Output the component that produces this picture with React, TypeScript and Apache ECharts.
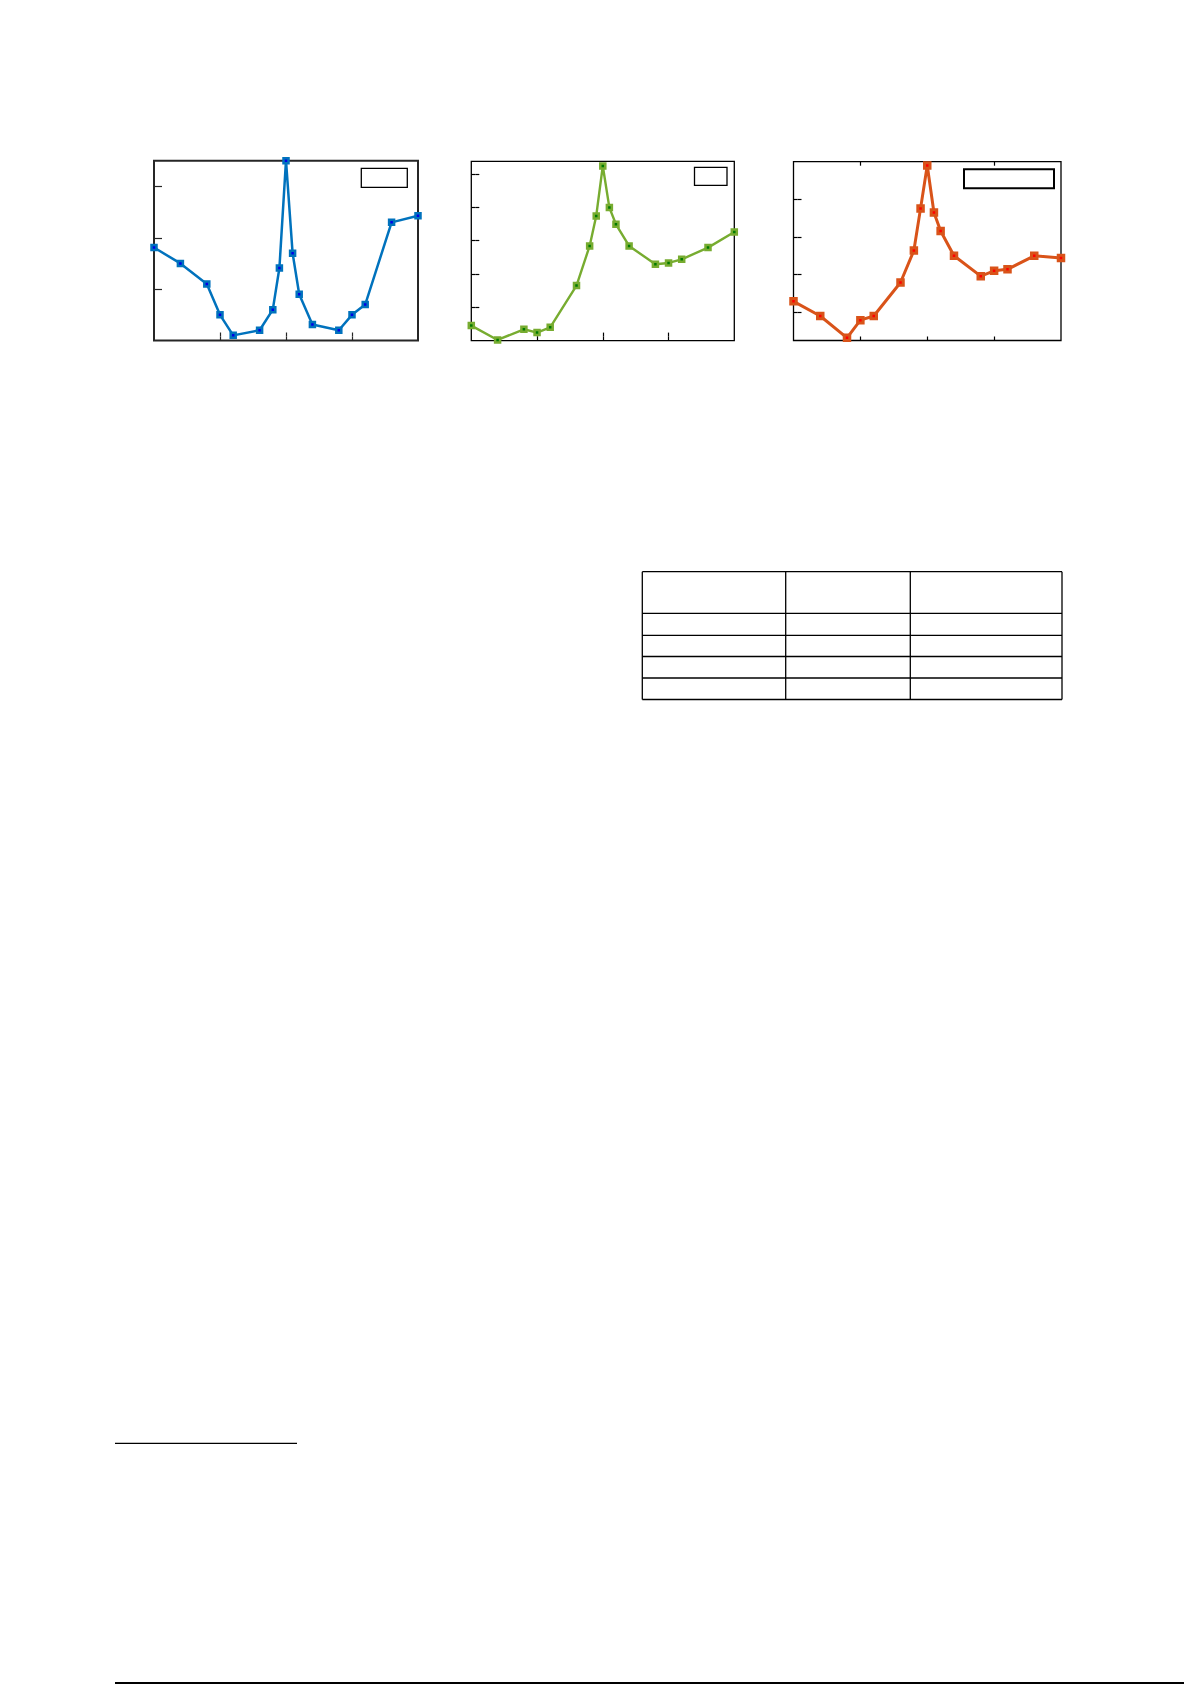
import React, { useEffect, useRef } from 'react';
import * as echarts from 'echarts';

// shared x positions of the measurements
const xValues = [0, 2, 4, 5, 6, 8, 9, 9.5, 10, 10.5, 11, 12, 14, 15, 16, 18, 20];
const xTicks = [5, 10, 15];

// left panel (blue)
const blueValues = [1.81, 1.5, 1.1, 0.5, 0.1, 0.2, 0.6, 1.41, 3.5, 1.7, 0.9, 0.31, 0.2, 0.5, 0.7, 2.3, 2.43];
const blueTicks = [1, 2, 3];

// middle panel (green)
const greenValues = [0.45, 0.02, 0.34, 0.24, 0.4, 1.65, 2.84, 3.74, 5.24, 3.99, 3.49, 2.84, 2.29, 2.33, 2.44, 2.79, 3.26];
const greenTicks = [1, 2, 3, 4, 5];

// right panel (orange)
const orangeValues = [1.29, 0.9, 0.32, 0.79, 0.9, 1.79, 2.64, 3.76, 4.9, 3.65, 3.16, 2.5, 1.96, 2.1, 2.14, 2.5, 2.44];
const orangeTicks = [1, 2, 3, 4];

const panels = [
  { values: blueValues, ticks: blueTicks, min: 0, max: 3.5, line: '#0072BD', fill: '#0000E6', width: 2.5,
    grid: { left: 154, top: 160.7, width: 264, height: 179.8 }, frame: '#262626', frameWidth: 2 },
  { values: greenValues, ticks: greenTicks, min: 0, max: 5.38, line: '#77AC30', fill: '#007A00', width: 2.4,
    grid: { left: 471.3, top: 161.3, width: 263, height: 179.3 }, frame: '#000', frameWidth: 1.3 },
  { values: orangeValues, ticks: orangeTicks, min: 0.25, max: 5, line: '#D95319', fill: '#FF0000', width: 3,
    grid: { left: 793.5, top: 161.7, width: 267.5, height: 178.8 }, frame: '#000', frameWidth: 1.3 },
];

// empty legend boxes (x, y, w, h, border)
const legendBoxes = [
  [361.3, 168.3, 46, 19, 1.3],
  [694.5, 167.3, 32.5, 18, 1.3],
  [964, 169.3, 90, 19, 2],
];

// table frame
const tableX = [642.3, 785.7, 910.3, 1062];
const tableY = [571.7, 613.3, 635.3, 656.5, 678, 699.5];

const App: React.FC = () => {
  const chartRef = useRef<HTMLDivElement | null>(null);

  useEffect(() => {
    if (!chartRef.current) return;
    const chart = echarts.init(chartRef.current, undefined, { renderer: 'svg' });

    const grids: any[] = [];
    const xAxes: any[] = [];
    const yAxes: any[] = [];
    const series: any[] = [];

    panels.forEach((p, i) => {
      grids.push({ ...p.grid, show: true, borderColor: p.frame, borderWidth: p.frameWidth, backgroundColor: 'transparent' });
      const tickStyle = { color: p.frame, width: 1.2 };
      // each axis is pulled 4px into the plot, so its outward ticks end on the frame
      ['bottom', 'top'].forEach((pos) => {
        xAxes.push({
          type: 'value', gridIndex: i, position: pos, min: 0, max: 20, offset: -4,
          axisLine: { show: false }, splitLine: { show: false },
          axisLabel: { show: false },
          axisTick: { show: true, length: 4, lineStyle: tickStyle, customValues: xTicks },
        });
      });
      ['left', 'right'].forEach((pos) => {
        yAxes.push({
          type: 'value', gridIndex: i, position: pos, min: p.min, max: p.max, offset: -4,
          axisLine: { show: false }, splitLine: { show: false },
          axisLabel: { show: false },
          axisTick: { show: true, length: 4, lineStyle: tickStyle, customValues: p.ticks },
        });
      });
      series.push({
        type: 'line', xAxisIndex: i * 2, yAxisIndex: i * 2, clip: false,
        data: xValues.map((x, k) => [x, p.values[k]]),
        lineStyle: { color: p.line, width: p.width },
        symbol: 'rect', symbolSize: i === 2 ? 5.5 : 5,
        itemStyle: { color: p.fill, borderColor: p.line, borderWidth: i === 2 ? 3 : 2.5 },
      });
    });

    const graphics: any[] = [];
    legendBoxes.forEach(([x, y, w, h, b]) => {
      graphics.push({ type: 'rect', shape: { x, y, width: w, height: h }, style: { fill: '#fff', stroke: '#000', lineWidth: b }, z: 100 });
    });
    tableX.forEach((x) => {
      graphics.push({ type: 'line', shape: { x1: x, y1: tableY[0], x2: x, y2: tableY[tableY.length - 1] }, style: { stroke: '#000', lineWidth: 1.3 } });
    });
    tableY.forEach((y) => {
      graphics.push({ type: 'line', shape: { x1: tableX[0], y1: y, x2: tableX[tableX.length - 1], y2: y }, style: { stroke: '#000', lineWidth: 1.3 } });
    });
    // footnote rule and page rule
    graphics.push({ type: 'line', shape: { x1: 115, y1: 1443.3, x2: 297, y2: 1443.3 }, style: { stroke: '#000', lineWidth: 1.2 } });
    graphics.push({ type: 'line', shape: { x1: 115, y1: 1683, x2: 1184, y2: 1683 }, style: { stroke: '#000', lineWidth: 2 } });

    chart.setOption({
      animation: false,
      backgroundColor: '#fff',
      grid: grids,
      xAxis: xAxes,
      yAxis: yAxes,
      series,
      graphic: graphics,
    });

    return () => {
      chart.dispose();
    };
  }, []);

  return <div ref={chartRef} style={{ position: 'absolute', left: 0, top: 0, width: 1192, height: 1685 }} />;
};

export default App;
